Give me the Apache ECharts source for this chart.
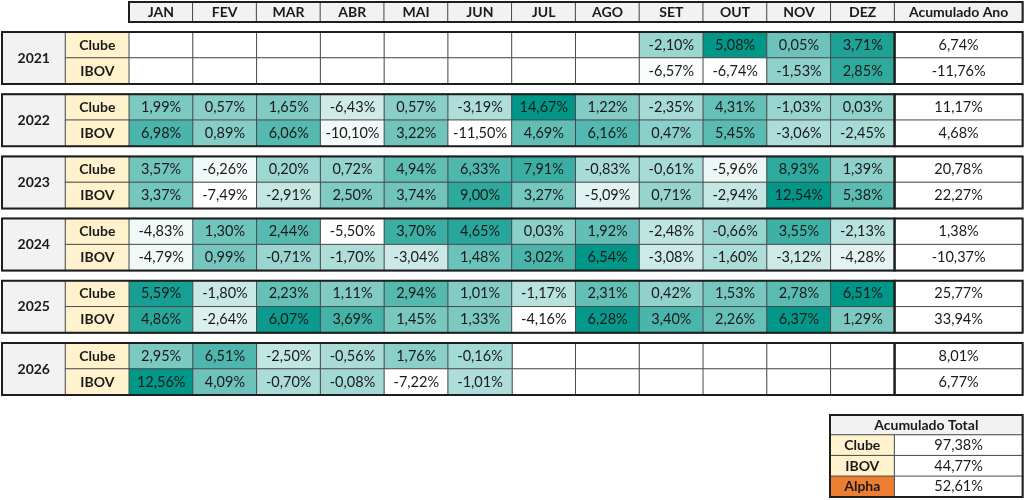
<!DOCTYPE html>
<html>
<head>
<meta charset="utf-8">
<script src="https://cdn.jsdelivr.net/npm/echarts@6/dist/echarts.min.js"></script>
<style>
  html, body { margin: 0; padding: 0; background: #fff; }
  #chart { width: 1024px; height: 500px; }
</style>
</head>
<body>
<div id="chart"></div>
<script>
// meses / anos / linhas
var months = ['JAN', 'FEV', 'MAR', 'ABR', 'MAI', 'JUN', 'JUL', 'AGO', 'SET', 'OUT', 'NOV', 'DEZ'];
var years = ['2021', '2022', '2023', '2024', '2025', '2026'];
var rowNames = ['Clube', 'IBOV'];

// retornos mensais (%), null = sem dado
var clubeMonthly = [
  [null, null, null, null, null, null, null, null, -2.10, 5.08, 0.05, 3.71],
  [1.99, 0.57, 1.65, -6.43, 0.57, -3.19, 14.67, 1.22, -2.35, 4.31, -1.03, 0.03],
  [3.57, -6.26, 0.20, 0.72, 4.94, 6.33, 7.91, -0.83, -0.61, -5.96, 8.93, 1.39],
  [-4.83, 1.30, 2.44, -5.50, 3.70, 4.65, 0.03, 1.92, -2.48, -0.66, 3.55, -2.13],
  [5.59, -1.80, 2.23, 1.11, 2.94, 1.01, -1.17, 2.31, 0.42, 1.53, 2.78, 6.51],
  [2.95, 6.51, -2.50, -0.56, 1.76, -0.16, null, null, null, null, null, null]
];
var ibovMonthly = [
  [null, null, null, null, null, null, null, null, -6.57, -6.74, -1.53, 2.85],
  [6.98, 0.89, 6.06, -10.10, 3.22, -11.50, 4.69, 6.16, 0.47, 5.45, -3.06, -2.45],
  [3.37, -7.49, -2.91, 2.50, 3.74, 9.00, 3.27, -5.09, 0.71, -2.94, 12.54, 5.38],
  [-4.79, 0.99, -0.71, -1.70, -3.04, 1.48, 3.02, 6.54, -3.08, -1.60, -3.12, -4.28],
  [4.86, -2.64, 6.07, 3.69, 1.45, 1.33, -4.16, 6.28, 3.40, 2.26, 6.37, 1.29],
  [12.56, 4.09, -0.70, -0.08, -7.22, -1.01, null, null, null, null, null, null]
];
// acumulado no ano
var clubeYear = [6.74, 11.17, 20.78, 1.38, 25.77, 8.01];
var ibovYear = [-11.76, 4.68, 22.27, -10.37, 33.94, 6.77];
// acumulado total
var totalNames = ['Clube', 'IBOV', 'Alpha'];
var totalValues = [97.38, 44.77, 52.61];

var FONT = 'Lato';
var TXT = '#1a1a1a';
var GRAY = '#f2f2f2';
var CREAM = '#fff2cc';
var ORANGE = '#ed7d31';
var LINE = '#4a4a4a';

var grids = [], xAxes = [], yAxes = [], series = [], visualMaps = [];

function fmt(v) {
  return v.toFixed(2).replace('.', ',') + '%';
}

// cria um grid com eixos de categoria escondidos
function addGrid(left, top, width, height, cols, rows, frame) {
  var i = grids.length;
  grids.push({
    left: left, top: top, width: width, height: height,
    show: !!frame, borderColor: '#1e1e1e', borderWidth: 2,
    backgroundColor: 'transparent', z: frame ? 10 : 0
  });
  xAxes.push({ gridIndex: i, type: 'category', data: cols, show: false });
  yAxes.push({ gridIndex: i, type: 'category', data: rows, inverse: true, show: false });
  return i;
}

function cellSeries(gi, data, color, formatter, bold) {
  var s = {
    type: 'heatmap',
    xAxisIndex: gi, yAxisIndex: gi,
    data: data,
    itemStyle: { borderColor: LINE, borderWidth: 1 },
    label: {
      show: true, formatter: formatter, color: TXT,
      fontFamily: FONT, fontSize: bold ? 14 : 14.5, fontWeight: bold ? 'bold' : 'normal'
    },
    emphasis: { disabled: true },
    silent: true
  };
  if (color) s.itemStyle.color = color;
  series.push(s);
  return series.length - 1;
}

var L = 2, YW = 63.5, MW = 63.8, ACW = 128;
var xMonths = L + 2 * YW;          // JAN começa aqui
var xAcum = xMonths + 12 * MW;     // coluna Acumulado Ano

// cabeçalho
addGrid(xMonths, 2, xAcum + ACW - xMonths, 20, ['f'], ['f'], true);
var gh = addGrid(xMonths, 2, 12 * MW, 20, months, ['h']);
cellSeries(gh, months.map(function (m, i) { return [i, 0, 0]; }), GRAY,
  function (p) { return months[p.value[0]]; }, true);
var gha = addGrid(xAcum, 2, ACW, 20, ['a'], ['h']);
cellSeries(gha, [[0, 0, 0]], GRAY, function () { return 'Acumulado Ano'; }, true);

// blocos por ano
years.forEach(function (yr, b) {
  var top = 32 + b * 62.2, h = 52;
  addGrid(L, top, xAcum - L, h, ['f'], ['f'], true);

  var gy = addGrid(L, top, YW, h, ['y'], ['y']);
  cellSeries(gy, [[0, 0, 0]], GRAY, function () { return yr; }, true);

  var gm = addGrid(L + YW, top, YW + 12 * MW, h, ['rot'].concat(months), rowNames);
  cellSeries(gm, [[0, 0, 0], [0, 1, 0]], CREAM, function (p) { return rowNames[p.value[1]]; }, true);

  var filled = [], blank = [];
  [clubeMonthly[b], ibovMonthly[b]].forEach(function (row, r) {
    row.forEach(function (v, m) {
      if (v === null) blank.push([m + 1, r, 0]);
      else filled.push([m + 1, r, v]);
    });
  });
  if (blank.length) cellSeries(gm, blank, '#ffffff', function () { return ''; });
  var vals = filled.map(function (d) { return d[2]; });
  var si = cellSeries(gm, filled, null, function (p) { return fmt(p.value[2]); });
  visualMaps.push({
    type: 'continuous', show: false, seriesIndex: si, dimension: 2,
    min: Math.min.apply(null, vals), max: Math.max.apply(null, vals),
    inRange: { color: ['#ffffff', '#009688'] }
  });

  var ga = addGrid(xAcum, top, ACW, h, ['a'], rowNames, true);
  cellSeries(ga, [[0, 0, clubeYear[b]], [0, 1, ibovYear[b]]], '#ffffff',
    function (p) { return fmt(p.value[2]); });
});

// tabela acumulado total
var TL = 830, TR = xAcum + ACW;
addGrid(TL, 415, TR - TL, 82, ['f'], ['f'], true);
var gt = addGrid(TL, 415, TR - TL, 20, ['t'], ['t']);
cellSeries(gt, [[0, 0, 0]], GRAY, function () { return 'Acumulado Total'; }, true);
var gtl = addGrid(TL, 435, xAcum - TL, 62, ['n'], totalNames);
cellSeries(gtl, totalNames.map(function (n, i) {
  return { value: [0, i, 0], itemStyle: { color: n === 'Alpha' ? ORANGE : CREAM } };
}), null, function (p) { return totalNames[p.value[1]]; }, true);
var gtv = addGrid(xAcum, 435, ACW, 62, ['v'], totalNames);
cellSeries(gtv, totalValues.map(function (v, i) { return [0, i, v]; }), '#ffffff',
  function (p) { return fmt(p.value[2]); });

var chart = echarts.init(document.getElementById('chart'));
chart.setOption({
  backgroundColor: '#ffffff',
  animation: false,
  grid: grids,
  xAxis: xAxes,
  yAxis: yAxes,
  visualMap: visualMaps,
  series: series
});
</script>
</body>
</html>
